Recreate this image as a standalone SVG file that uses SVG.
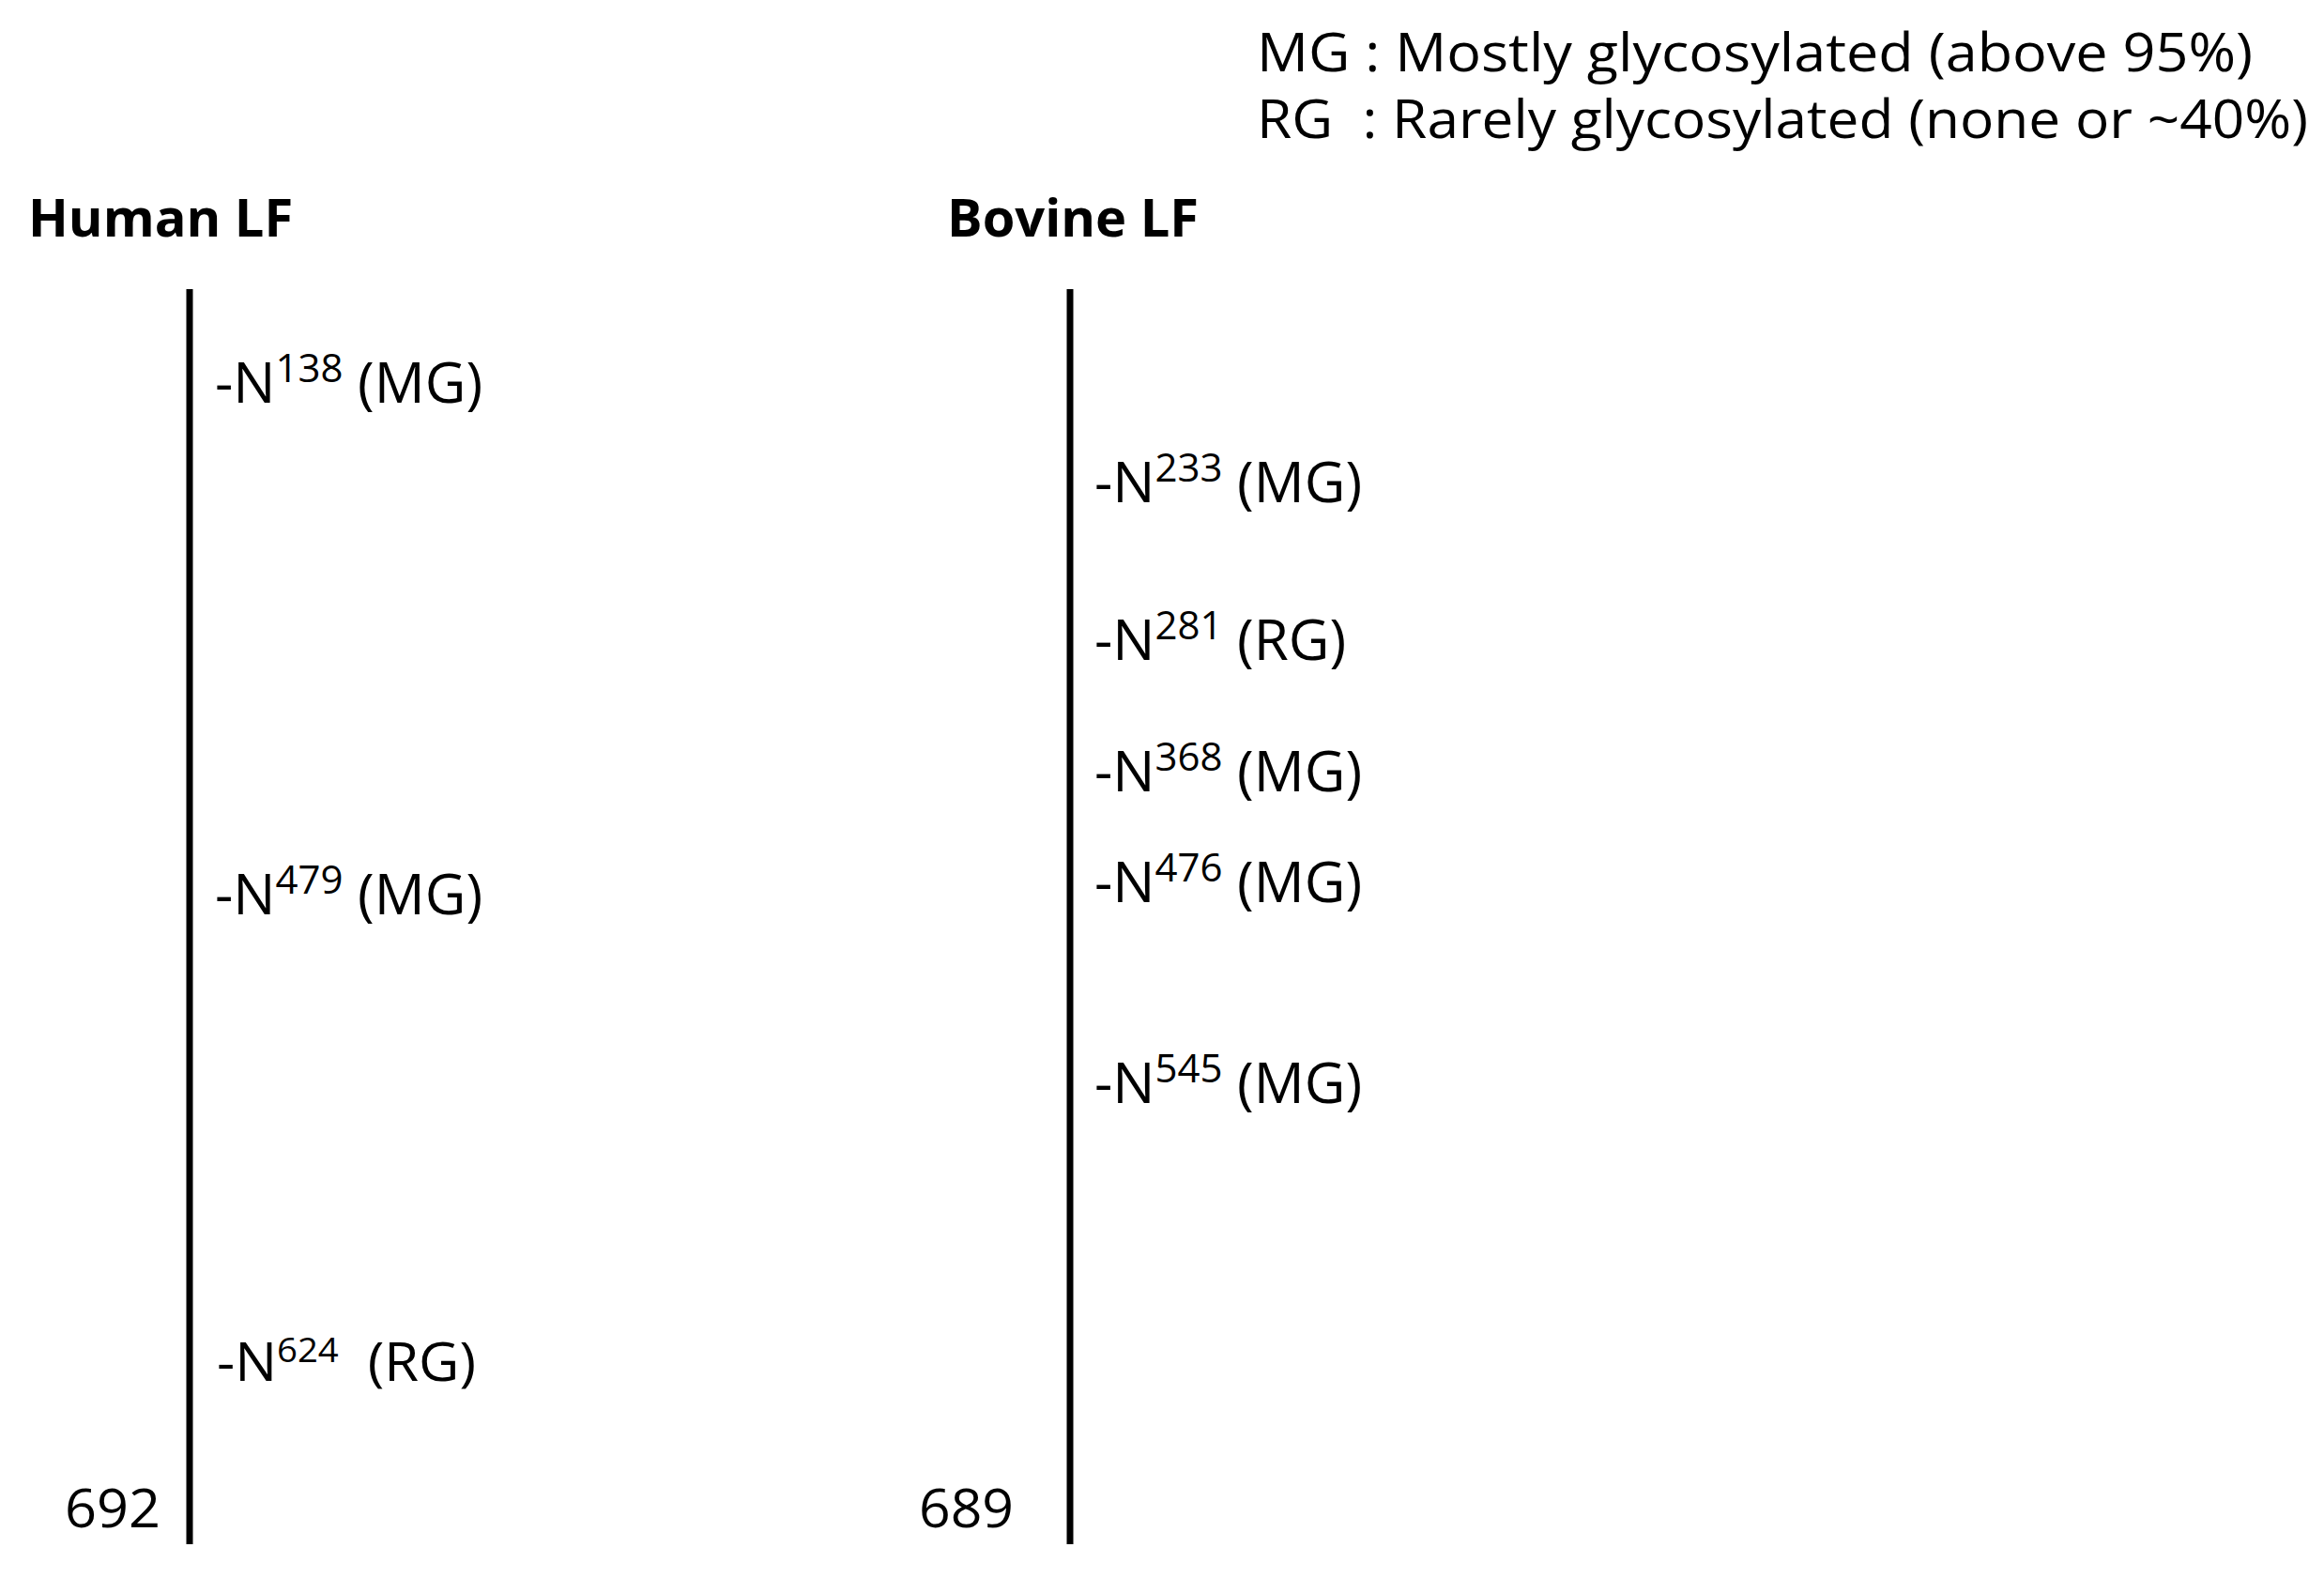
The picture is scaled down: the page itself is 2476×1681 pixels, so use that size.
<svg xmlns="http://www.w3.org/2000/svg" width="2476" height="1681" viewBox="0 0 2476 1681">
<style>
.t{font-family:"Open Sans","DejaVu Sans",sans-serif;fill:#000}
.lab{font-size:60px}
.sup{font-size:42px}
.hdr{font-size:56px;font-weight:bold}
.leg{font-size:56px}
.num{font-size:56px}
.axis{stroke:#000;stroke-width:7;fill:none}
</style>
<rect width="2476" height="1681" fill="#fff"/>
<g id="legend">
<text class="t leg" x="1339" y="76" textLength="1061" lengthAdjust="spacingAndGlyphs">MG : Mostly glycosylated (above 95%)</text>
<text class="t leg" x="1339" y="147" textLength="1120" lengthAdjust="spacingAndGlyphs" xml:space="preserve">RG  : Rarely glycosylated (none or ~40%)</text>
</g>
<g id="connectors">
<line class="axis" x1="202" y1="308" x2="202" y2="1645"/>
<line class="axis" x1="1140" y1="308" x2="1140" y2="1645"/>
</g>
<g id="human">
<text class="t hdr" x="30" y="252">Human LF</text>
<text class="t lab" x="229" y="429">-N<tspan class="sup" dy="-22">138</tspan><tspan dy="22"> (MG)</tspan></text>
<text class="t lab" x="229" y="974">-N<tspan class="sup" dy="-22">479</tspan><tspan dy="22"> (MG)</tspan></text>
<text class="t lab" x="231" y="1471" style="font-size:56px" textLength="276" lengthAdjust="spacingAndGlyphs" xml:space="preserve">-N<tspan style="font-size:36px" dy="-20">624</tspan><tspan dy="20">  (RG)</tspan></text>
<text class="t num" x="69" y="1627" textLength="102" lengthAdjust="spacingAndGlyphs">692</text>
</g>
<g id="bovine">
<text class="t hdr" x="1009" y="252">Bovine LF</text>
<text class="t lab" x="1166" y="535">-N<tspan class="sup" dy="-22">233</tspan><tspan dy="22"> (MG)</tspan></text>
<text class="t lab" x="1166" y="703">-N<tspan class="sup" dy="-22">281</tspan><tspan dy="22"> (RG)</tspan></text>
<text class="t lab" x="1166" y="843">-N<tspan class="sup" dy="-22">368</tspan><tspan dy="22"> (MG)</tspan></text>
<text class="t lab" x="1166" y="961">-N<tspan class="sup" dy="-22">476</tspan><tspan dy="22"> (MG)</tspan></text>
<text class="t lab" x="1166" y="1175">-N<tspan class="sup" dy="-22">545</tspan><tspan dy="22"> (MG)</tspan></text>
<text class="t num" x="979" y="1627" textLength="101" lengthAdjust="spacingAndGlyphs">689</text>
</g>
</svg>
